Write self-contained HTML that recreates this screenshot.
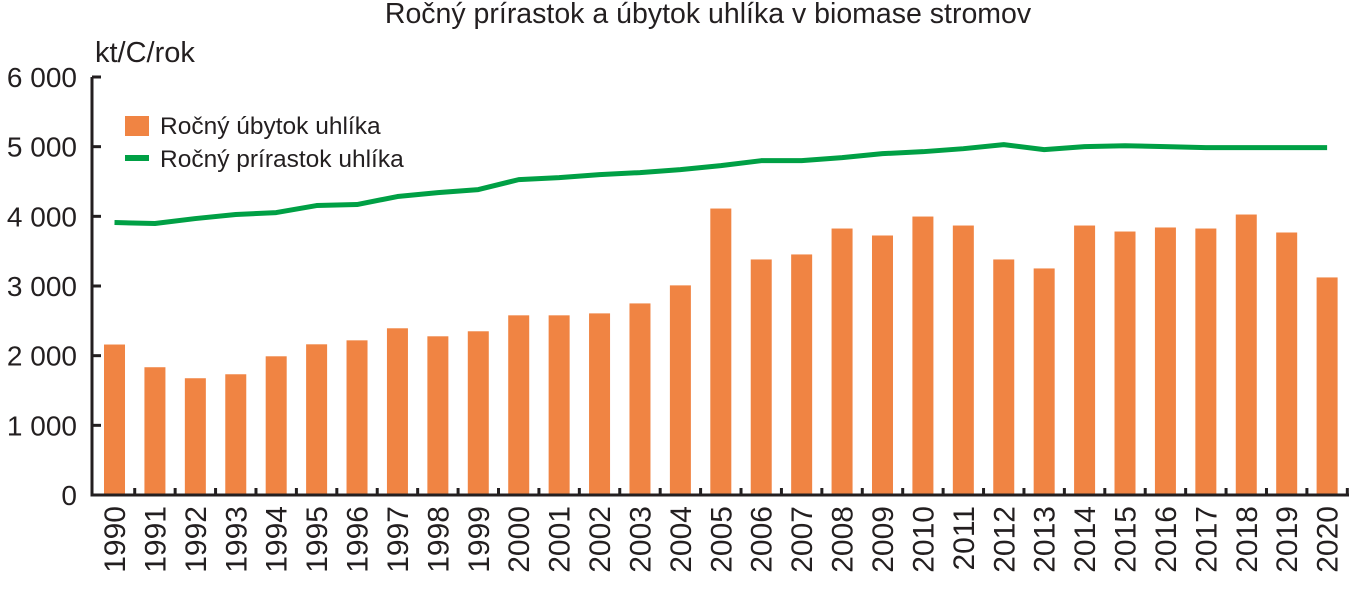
<!DOCTYPE html>
<html><head><meta charset="utf-8"><style>
body{margin:0;background:#fff;}
svg text{font-family:"Liberation Sans",sans-serif;fill:#231f20;}
</style></head><body>
<svg width="1351" height="585">
<text x="708" y="23" font-size="28.5" text-anchor="middle">Ročný prírastok a úbytok uhlíka v biomase stromov</text>
<text x="95" y="62" font-size="29">kt/C/rok</text>
<g id="bars"></g><g id="line"></g><g id="axes"></g>
<g>
<rect x="125" y="116" width="24" height="20" fill="#f08443"/>
<text x="160" y="134" font-size="24.5">Ročný úbytok uhlíka</text>
<rect x="125" y="155" width="24" height="6" fill="#00a045"/>
<text x="160" y="167" font-size="24.5">Ročný prírastok uhlíka</text>
</g>
</svg>
<script>
const years=[1990,1991,1992,1993,1994,1995,1996,1997,1998,1999,2000,2001,2002,2003,2004,2005,2006,2007,2008,2009,2010,2011,2012,2013,2014,2015,2016,2017,2018,2019,2020];
const loss=[2160,1834,1676,1733,1991,2163,2220,2393,2278,2350,2579,2579,2607,2750,3009,4112,3381,3453,3825,3725,3997,3868,3381,3252,3868,3782,3840,3825,4026,3768,3123];
const gain=[3911,3897,3968,4026,4054,4155,4169,4284,4341,4384,4527,4556,4599,4628,4670,4728,4799,4799,4842,4900,4928,4971,5029,4957,5000,5014,5000,4986,4986,4986,4986];
const yTicks=[0,1000,2000,3000,4000,5000,6000];
const yTickLabels=["0","1 000","2 000","3 000","4 000","5 000","6 000"];
const NS="http://www.w3.org/2000/svg";
const X0=94.3,BW=40.42,Y0=495,PX=418/6000;
const xc=i=>X0+BW*(i+0.5), y=v=>Y0-v*PX;
function mk(t,a,p){const e=document.createElementNS(NS,t);for(const k in a)e.setAttribute(k,a[k]);p.appendChild(e);return e;}
const bars=document.getElementById('bars'),line=document.getElementById('line'),axes=document.getElementById('axes');
loss.forEach((v,i)=>{const r=mk('rect',{x:xc(i)-10.5,y:y(v),width:21,height:Y0-y(v),fill:'#f08443'},bars);

});
const pl=mk('polyline',{points:gain.map((v,i)=>xc(i)+','+y(v)).join(' '),fill:'none',stroke:'#00a045','stroke-width':5,'stroke-linejoin':'round'},line);


const ya=mk('line',{x1:92,y1:y(6000),x2:92,y2:Y0+1.5,stroke:'#231f20','stroke-width':3},axes);


const xa=mk('line',{x1:90.5,y1:Y0,x2:1349,y2:Y0,stroke:'#231f20','stroke-width':3},axes);


yTicks.forEach((v,i)=>{mk('line',{x1:92,y1:y(v),x2:101,y2:y(v),stroke:'#231f20','stroke-width':3},axes);
const t=mk('text',{x:77,y:y(v)+10,'font-size':28,'text-anchor':'end'},axes);t.textContent=yTickLabels[i];

});
years.forEach((yr,i)=>{const bx=X0+BW*(i+1);mk('line',{x1:bx,y1:Y0,x2:bx,y2:Y0-7,stroke:'#231f20','stroke-width':3},axes);
const t=mk('text',{x:0,y:0,'font-size':30,'text-anchor':'end',transform:`translate(${xc(i)+10.5},506) rotate(-90)`},axes);t.textContent=yr;

});
</script>
</body></html>
